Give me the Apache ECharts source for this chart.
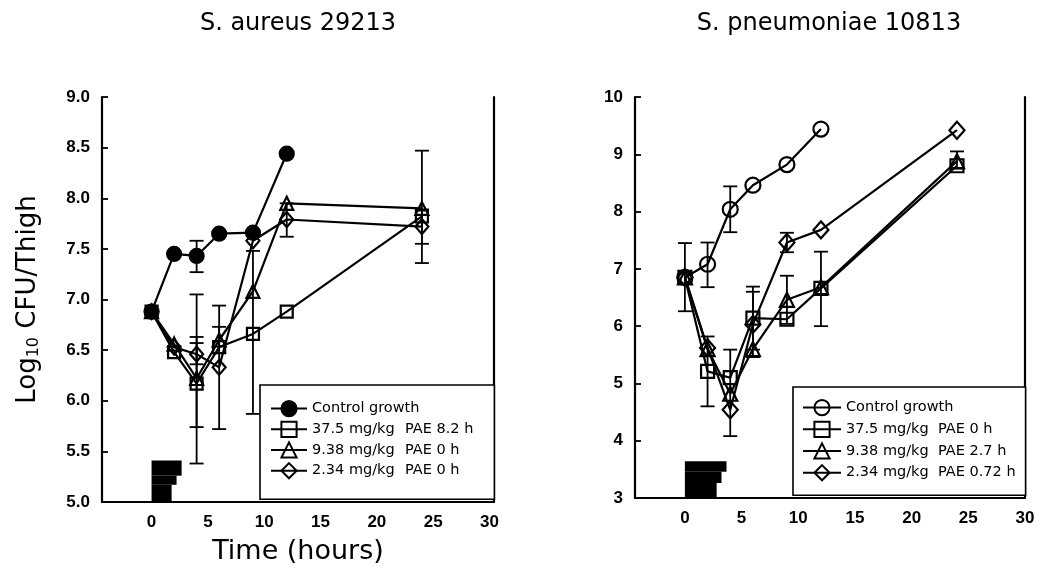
<!DOCTYPE html>
<html>
<head>
<meta charset="utf-8">
<script src="https://cdn.jsdelivr.net/npm/echarts@6/dist/echarts.min.js"></script>
<style>
  html, body { margin: 0; padding: 0; background: #fff; }
  #chart { width: 1044px; height: 580px; }
</style>
</head>
<body>
<div id="chart"></div>
<script>
// ---- data -------------------------------------------------------------
const panelTitles = ['S. aureus 29213', 'S. pneumoniae 10813'];
const xTickValues = [0, 5, 10, 15, 20, 25, 30];
const saTickValues = [5.0, 5.5, 6.0, 6.5, 7.0, 7.5, 8.0, 8.5, 9.0];
const spTickValues = [3, 4, 5, 6, 7, 8, 9, 10];

const controlHours = [0, 2, 4, 6, 9, 12];
const doseHours = [0, 2, 4, 6, 9, 12, 24];

const controlLabel = 'Control growth';
const doseLabels = ['37.5 mg/kg', '9.38 mg/kg', '2.34 mg/kg'];
const saPAE = ['PAE 8.2 h', 'PAE 0 h', 'PAE 0 h'];
const spPAE = ['PAE 0 h', 'PAE 2.7 h', 'PAE 0.72 h'];

// S. aureus 29213, log10 CFU/thigh
const saControl = [6.88, 7.45, 7.43, 7.65, 7.66, 8.44];
const saDose375 = [6.88, 6.48, 6.17, 6.53, 6.66, 6.88, 7.82];
const saDose938 = [6.88, 6.56, 6.22, 6.60, 7.08, 7.95, 7.90];
const saDose234 = [6.88, 6.53, 6.46, 6.33, 7.58, 7.79, 7.72];
// error bars: [hour, low, high]
const saControlErr = [[4, 7.27, 7.58]];
const saDose375Err = [[4, 5.38, 7.05], [9, 5.87, 7.48]];
const saDose938Err = [[4, 5.74, 6.63], [6, 6.47, 6.73], [24, 7.36, 8.47]];
const saDose234Err = [[4, 6.36, 6.57], [6, 5.72, 6.94], [12, 7.62, 7.95], [24, 7.55, 7.89]];
// dosing period blocks: [hour from, hour to, log from, log to]
const saDosing = [[0, 1.78, 5.0, 5.17], [0, 2.22, 5.17, 5.26], [0, 2.67, 5.26, 5.41]];

// S. pneumoniae 10813, log10 CFU/thigh
const spControl = [6.85, 7.08, 8.04, 8.46, 8.82, 9.44];
const spDose375 = [6.85, 5.21, 5.10, 6.14, 6.12, 6.66, 8.80];
const spDose938 = [6.85, 5.60, 4.82, 5.60, 6.46, 6.68, 8.88];
const spDose234 = [6.85, 5.62, 4.54, 6.03, 7.46, 7.68, 9.42];
const spControlErr = [[0, 6.26, 7.45], [2, 6.68, 7.46], [4, 7.64, 8.44]];
const spDose375Err = [[2, 4.60, 5.82], [6, 5.59, 6.69], [12, 6.00, 7.30]];
const spDose938Err = [[4, 4.08, 5.59], [9, 6.04, 6.88], [24, 8.75, 9.05]];
const spDose234Err = [[6, 5.46, 6.60], [9, 7.29, 7.63]];
const spDosing = [[0, 2.80, 3.0, 3.26], [0, 3.23, 3.26, 3.46], [0, 3.67, 3.46, 3.64]];

// ---- helpers ----------------------------------------------------------
const INK = '#000';
const TICK_FONT = 'Liberation Sans';
const TEXT_FONT = 'DejaVu Sans';

function pairs(xs, ys) { return ys.map((y, i) => [xs[i], y]); }

function lineSeries(name, xs, ys, symbol, size, filled, axis) {
  return {
    type: 'line', name: name,
    xAxisIndex: axis.x, yAxisIndex: axis.y,
    data: pairs(xs, ys),
    symbol: symbol, symbolSize: size,
    color: INK,
    lineStyle: { color: INK, width: 2.2 },
    itemStyle: { color: filled ? INK : 'rgba(0,0,0,0)', borderColor: INK, borderWidth: 2.2 },
    emphasis: { disabled: true },
    animation: false, z: 3
  };
}

function errorBars(rows, axis) {
  return {
    type: 'custom', xAxisIndex: axis.x, yAxisIndex: axis.y,
    data: rows, encode: { x: 0, y: [1, 2] },
    silent: true, animation: false, z: 2,
    renderItem: function (params, api) {
      const x = api.value(0);
      const lo = api.coord([x, api.value(1)]);
      const hi = api.coord([x, api.value(2)]);
      const w = 7;
      const st = { stroke: INK, lineWidth: 1.8 };
      return {
        type: 'group', children: [
          { type: 'line', shape: { x1: lo[0], y1: lo[1], x2: hi[0], y2: hi[1] }, style: st },
          { type: 'line', shape: { x1: lo[0] - w, y1: lo[1], x2: lo[0] + w, y2: lo[1] }, style: st },
          { type: 'line', shape: { x1: hi[0] - w, y1: hi[1], x2: hi[0] + w, y2: hi[1] }, style: st }
        ]
      };
    }
  };
}

function dosingBlocks(rows, axis) {
  return {
    type: 'custom', xAxisIndex: axis.x, yAxisIndex: axis.y,
    data: rows, encode: { x: [0, 1], y: [2, 3] },
    silent: true, animation: false, z: 1,
    renderItem: function (params, api) {
      const a = api.coord([api.value(0), api.value(3)]);
      const b = api.coord([api.value(1), api.value(2)]);
      return { type: 'rect', shape: { x: a[0], y: a[1], width: b[0] - a[0], height: b[1] - a[1] },
               style: { fill: INK } };
    }
  };
}

const tickLabelStyle = { color: INK, fontFamily: TICK_FONT, fontSize: 17, fontWeight: 'bold' };

function xAxisFor(grid, max, withName) {
  return {
    type: 'value', gridIndex: grid, min: -4.4, max: max,
    axisLine: { show: true, onZero: false, lineStyle: { color: INK, width: 2.2 } },
    axisTick: { show: false },
    splitLine: { show: false },
    axisLabel: Object.assign({ customValues: xTickValues, margin: 12 }, tickLabelStyle),
    name: withName ? 'Time (hours)' : '',
    nameLocation: 'middle', nameGap: 36,
    nameTextStyle: { fontFamily: TEXT_FONT, fontSize: 27, color: INK }
  };
}

function yAxisFor(grid, min, max, step, ticks, digits, name) {
  return {
    type: 'value', gridIndex: grid, position: 'left', min: min, max: max, interval: step,
    axisLine: { show: true, onZero: false, lineStyle: { color: INK, width: 2.2 } },
    axisTick: { show: true, inside: true, length: 6, lineStyle: { color: INK, width: 1.8 } },
    splitLine: { show: false },
    axisLabel: Object.assign({ customValues: ticks, margin: 12, formatter: v => v.toFixed(digits) },
                             tickLabelStyle),
    name: name || '',
    nameLocation: 'middle', nameRotate: 90, nameGap: 60,
    nameTextStyle: {
      color: INK,
      rich: {
        a: { fontFamily: TEXT_FONT, fontSize: 26, color: INK },
        s: { fontFamily: TEXT_FONT, fontSize: 16, color: INK, padding: [12, 0, 0, 0] }
      }
    }
  };
}

function frameAxis(grid, min, max) {
  return {
    type: 'value', gridIndex: grid, position: 'right', min: min, max: max,
    axisLine: { show: true, onZero: false, lineStyle: { color: INK, width: 2.2 } },
    axisTick: { show: false }, axisLabel: { show: false }, splitLine: { show: false }
  };
}

function legendFor(names, box) {
  return {
    data: names, orient: 'vertical',
    left: box.left, top: box.top, padding: box.padding,
    itemWidth: box.itemWidth, itemHeight: 19, itemGap: box.gap,
    borderColor: INK, borderWidth: 1.6, backgroundColor: '#fff',
    selectedMode: false, z: 10,
    textStyle: {
      fontFamily: TEXT_FONT, fontSize: 14.5, color: INK,
      rich: {
        d: { fontFamily: TEXT_FONT, fontSize: 14.5, color: INK, width: box.doseWidth },
        p: { fontFamily: TEXT_FONT, fontSize: 14.5, color: INK }
      }
    },
    formatter: function (name) {
      const label = name.split(' / ')[1];
      const parts = label.split('|');
      return parts.length === 2 ? '{d|' + parts[0] + '}{p|' + parts[1] + '}' : label;
    }
  };
}

// ---- build ------------------------------------------------------------
const left = { x: 0, y: 0 };
const right = { x: 1, y: 2 };

const saNames = [panelTitles[0] + ' / ' + controlLabel]
  .concat(doseLabels.map((d, i) => panelTitles[0] + ' / ' + d + '|' + saPAE[i]));
const spNames = [panelTitles[1] + ' / ' + controlLabel]
  .concat(doseLabels.map((d, i) => panelTitles[1] + ' / ' + d + '|' + spPAE[i]));

const series = [
  dosingBlocks(saDosing, left),
  errorBars(saControlErr, left), errorBars(saDose375Err, left),
  errorBars(saDose938Err, left), errorBars(saDose234Err, left),
  lineSeries(saNames[0], controlHours, saControl, 'circle', 14, true, left),
  lineSeries(saNames[1], doseHours, saDose375, 'rect', 12, false, left),
  lineSeries(saNames[2], doseHours, saDose938, 'triangle', 13, false, left),
  lineSeries(saNames[3], doseHours, saDose234, 'diamond', [13, 15], false, left),

  dosingBlocks(spDosing, right),
  errorBars(spControlErr, right), errorBars(spDose375Err, right),
  errorBars(spDose938Err, right), errorBars(spDose234Err, right),
  lineSeries(spNames[0], controlHours, spControl, 'circle', 15, false, right),
  lineSeries(spNames[1], doseHours, spDose375, 'rect', 13, false, right),
  lineSeries(spNames[2], doseHours, spDose938, 'triangle', 14, false, right),
  lineSeries(spNames[3], doseHours, spDose234, 'diamond', [15, 17], false, right)
];

const chart = echarts.init(document.getElementById('chart'), null, { renderer: 'canvas' });
chart.setOption({
  backgroundColor: '#fff',
  animation: false,
  grid: [
    { left: 102, top: 97, width: 392, height: 405 },
    { left: 635, top: 97, width: 390, height: 401 }
  ],
  xAxis: [xAxisFor(0, 30.4, true), xAxisFor(1, 30, false)],
  yAxis: [
    yAxisFor(0, 5, 9, 0.5, saTickValues, 1, '{a|Log}{s|10}{a| CFU/Thigh}'),
    frameAxis(0, 5, 9),
    yAxisFor(1, 3, 10, 1, spTickValues, 0, ''),
    frameAxis(1, 3, 10)
  ],
  legend: [
    legendFor(saNames, { left: 260, top: 385, padding: [15, 21, 20, 10], itemWidth: 36, gap: 3.5, doseWidth: 93 }),
    legendFor(spNames, { left: 793, top: 387, padding: [12, 10, 14, 9], itemWidth: 38, gap: 4.5, doseWidth: 92 })
  ],
  graphic: [
    { type: 'text', x: 298, y: 24, style: { text: panelTitles[0], fill: INK,
      font: '24px "DejaVu Sans"', align: 'center', verticalAlign: 'middle' } },
    { type: 'text', x: 829, y: 24, style: { text: panelTitles[1], fill: INK,
      font: '24px "DejaVu Sans"', align: 'center', verticalAlign: 'middle' } }
  ],
  series: series
});
</script>
</body>
</html>
